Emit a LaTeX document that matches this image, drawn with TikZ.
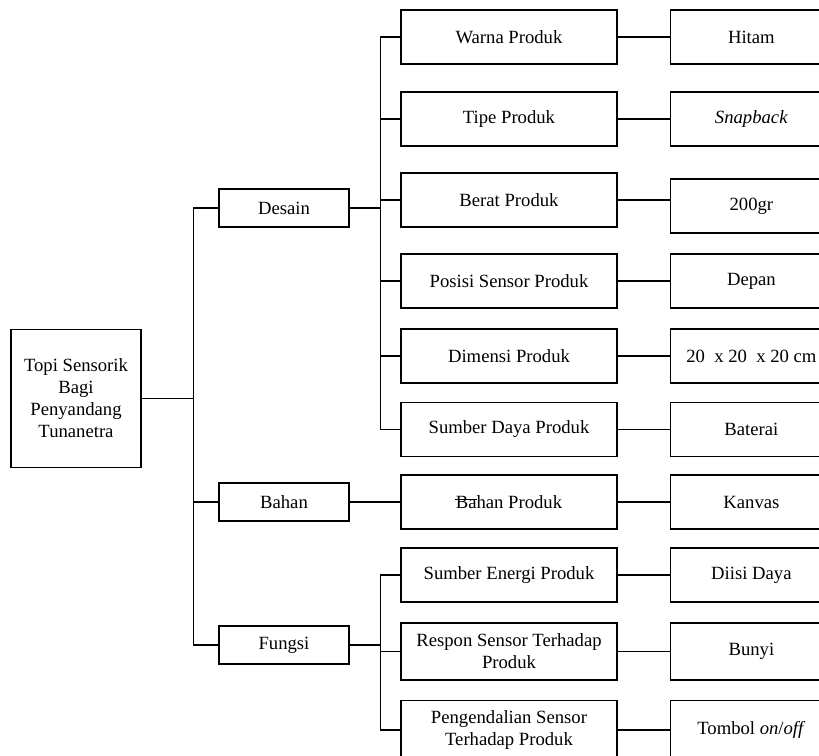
\documentclass[tikz,border=0pt]{standalone}
\usepackage{fontspec}
\setmainfont{Liberation Serif}
\usetikzlibrary{positioning, calc}
\tikzset{
  tr box/.style={
    rectangle, draw=black, line width=0.8pt, fill=white,
    align=center, inner sep=0pt,
    font=\fontsize{14}{16.5}\selectfont
  },
  tr root/.style={
    tr box, minimum width=97.5pt, minimum height=104pt
  },
  tr aspect/.style={
    tr box, minimum width=97.5pt, minimum height=28.5pt
  },
  tr item/.style={
    tr box, minimum width=162pt, minimum height=40.5pt
  },
  tr value/.style={
    tr box, minimum width=122pt, minimum height=40.5pt
  },
  tr line/.style={
    draw=black, line width=0.8pt
  }
}

\begin{document}
\begin{tikzpicture}[x=0.75pt, y=-0.75pt, node distance=39pt]
  \useasboundingbox (0,0) rectangle (819,756);
  \clip (0,0) rectangle (819,756);

  \node (root) [tr root] at (76,398.5) {Topi Sensorik\\Bagi\\Penyandang\\Tunanetra};
  \node (desain) [tr aspect] at (284,208) {Desain};
  \node (bahan) [tr aspect] at (284,502) {Bahan};
  \node (fungsi) [tr aspect] at (284,645) {Fungsi};

  \node (warna) [tr item] at (509,37) {Warna Produk};
  \node (tipe) [tr item] at (509,119) {Tipe Produk};
  \node (berat) [tr item] at (509,200) {Berat Produk};
  \node (posisi) [tr item] at (509,281) {Posisi Sensor Produk};
  \node (dimensi) [tr item] at (509,356) {Dimensi Produk};
  \node (daya) [tr item] at (509,429.5) {Sumber Daya Produk};
  \node (bprod) [tr item] at (509,502) {Bahan Produk};
  \node (energi) [tr item] at (509,575) {Sumber Energi Produk};
  \node (respon) [tr item, minimum height=42.75pt] at (509,651.5) {Respon Sensor Terhadap\\Produk};
  \node (kendali) [tr item, minimum height=44pt, yshift=-1.5pt] at (509,728) {Pengendalian Sensor\\Terhadap Produk};

  \node (hitam) [tr value, right=of warna] {Hitam};
  \node (snap) [tr value, right=of tipe] {\textit{Snapback}};
  \node (gram) [tr value, right=of berat, yshift=-4.5pt] {200gr};
  \node (depan) [tr value, right=of posisi] {Depan};
  \node (ukuran) [tr value, right=of dimensi] {20\ \ x 20\ \ x 20 cm};
  \node (baterai) [tr value, right=of daya] {Baterai};
  \node (kanvas) [tr value, right=of bprod] {Kanvas};
  \node (diisi) [tr value, right=of energi] {Diisi Daya};
  \node (bunyi) [tr value, minimum height=42.75pt, right=of respon] {Bunyi};
  \node (tombol) [tr value, minimum height=44pt, right=of kendali] {Tombol \textit{on}/\textit{off}};

  % root to aspects
  \draw [tr line] (root.east) -- ++(52,0) coordinate (ja);
  \draw [tr line] (desain.west) -| (ja);
  \draw [tr line] (bahan.west) -- (bahan.west -| ja);
  \draw [tr line] (fungsi.west) -| (ja);

  % aspects to items
  \draw [tr line] (desain.east) -- ++(31,0) coordinate (jb);
  \foreach \n in {warna,tipe,berat,posisi,dimensi,daya}
    \draw [tr line] (\n.west) -| (jb);
  \draw [tr line] (bahan.east) -- (bahan.east -| bprod.west);
  \draw [tr line] (fungsi.east) -- ++(31,0) coordinate (jc);
  \foreach \n in {energi,respon,kendali}
    \draw [tr line] (\n.west) -| (jc);

  % items to values
  \foreach \a/\b in {warna/hitam,tipe/snap,berat/gram,posisi/depan,dimensi/ukuran,
                     daya/baterai,bprod/kanvas,energi/diisi,respon/bunyi,kendali/tombol}
    \draw [tr line] (\a.east) -- (\a.east -| \b.west);

  % stray stroke over the B
  \draw [line width=0.6pt] ($(bprod.center)+(-54,-3)$) -- ++(22,0);
\end{tikzpicture}
\end{document}
